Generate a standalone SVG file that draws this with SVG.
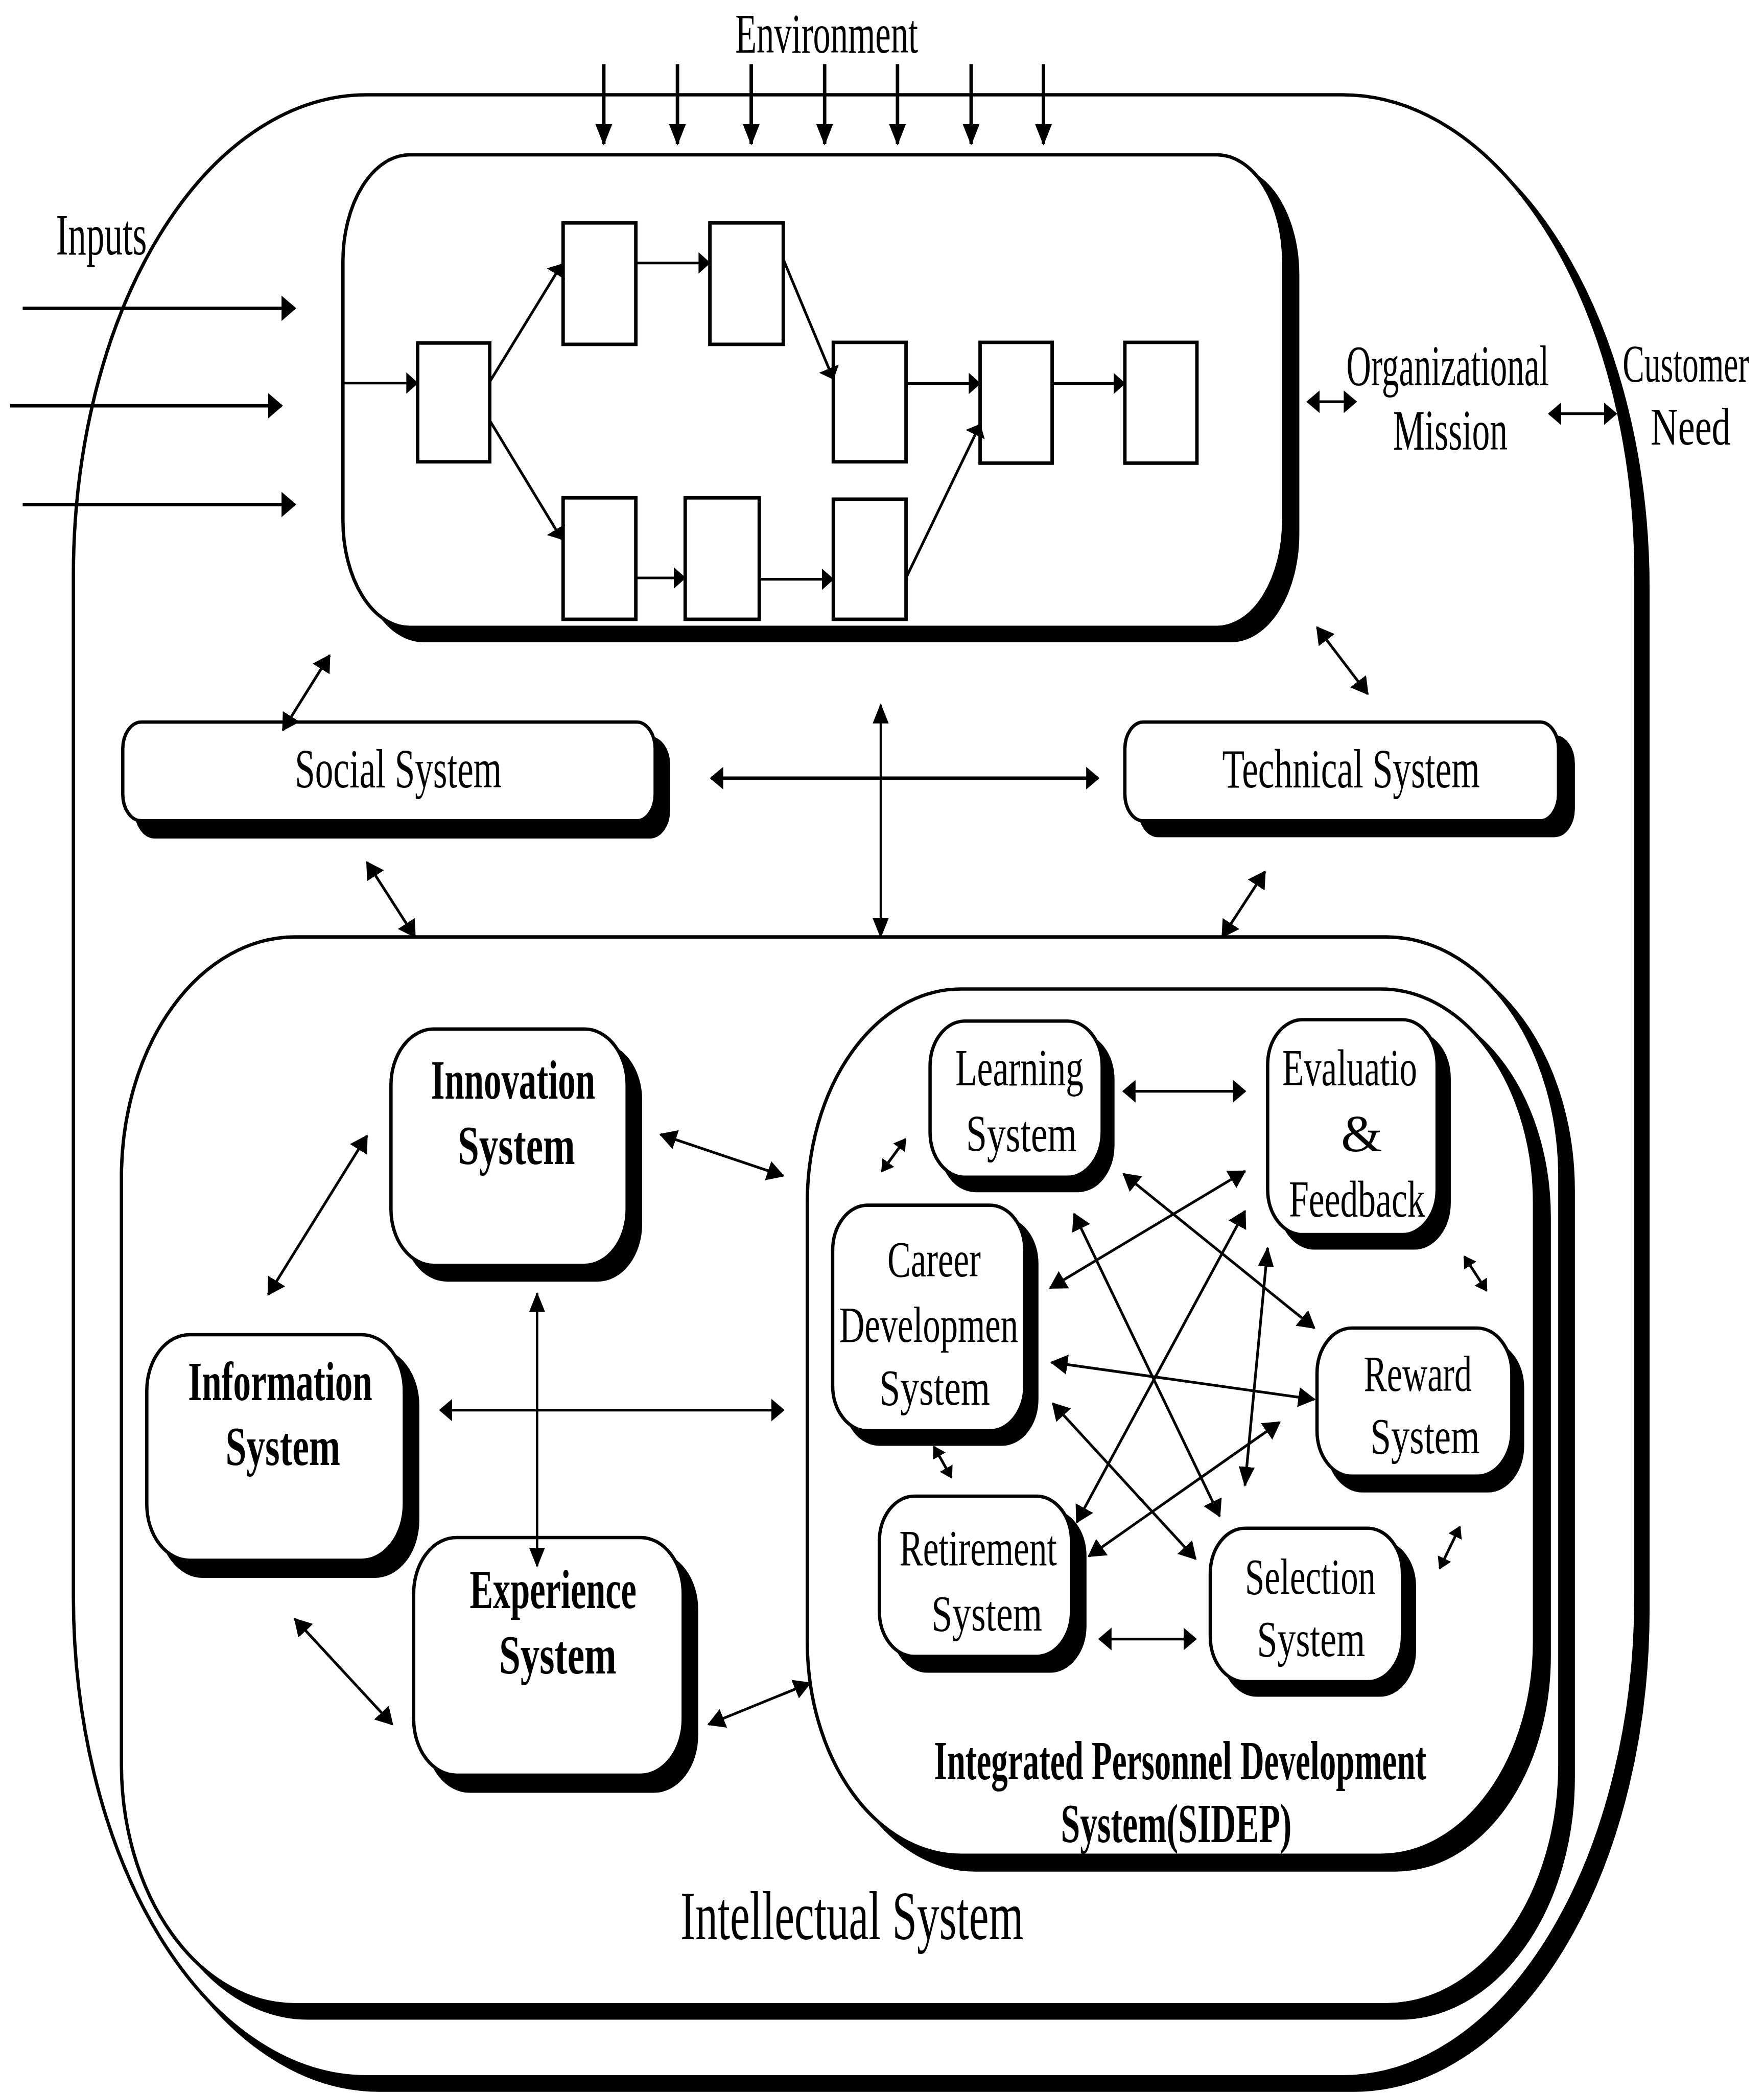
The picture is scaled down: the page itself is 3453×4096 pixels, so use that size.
<svg xmlns="http://www.w3.org/2000/svg" width="3453" height="4096" viewBox="0 0 3453 4096">
<style>
.box{fill:#fff;stroke:#000;stroke-width:2.5}
.sh{fill:#000;stroke:#000;stroke-width:2.5}
.pr{fill:#fff;stroke:#000;stroke-width:2.6}
.c{fill:none;stroke:#000;stroke-width:2}
.ct{fill:none;stroke:#000;stroke-width:2.6}
.t{font-family:"Liberation Serif","Times New Roman",serif;fill:#000}
.b{font-weight:bold}
</style>
<defs>
<marker id="mH" viewBox="0 -8.5 10 17" refX="9" refY="0" markerWidth="10" markerHeight="17" markerUnits="userSpaceOnUse" orient="auto-start-reverse"><path d="M0,-8.5 L10,0 L0,8.5 Z"/></marker>
<marker id="mV" viewBox="0 -6 15 12" refX="14" refY="0" markerWidth="15" markerHeight="12" markerUnits="userSpaceOnUse" orient="auto-start-reverse"><path d="M0,-6 L15,0 L0,6 Z"/></marker>
<marker id="mD" viewBox="0 -7.5 13 15" refX="12" refY="0" markerWidth="13" markerHeight="15" markerUnits="userSpaceOnUse" orient="auto-start-reverse"><path d="M0,-7.5 L13,0 L0,7.5 Z"/></marker>
<marker id="mS" viewBox="0 -5.5 9 11" refX="8" refY="0" markerWidth="9" markerHeight="11" markerUnits="userSpaceOnUse" orient="auto-start-reverse"><path d="M0,-5.5 L9,0 L0,5.5 Z"/></marker>
<marker id="mEnv" viewBox="0 -6.3 16 12.6" refX="15" refY="0" markerWidth="16" markerHeight="12.6" markerUnits="userSpaceOnUse" orient="auto"><path d="M0,-6.3 L16,0 L0,6.3 Z"/></marker>
<marker id="mIn" viewBox="0 -9.5 11 19" refX="10" refY="0" markerWidth="11" markerHeight="19" markerUnits="userSpaceOnUse" orient="auto"><path d="M0,-9.5 L11,0 L0,9.5 Z"/></marker>
<marker id="mP" viewBox="0 -8 9 16" refX="8.5" refY="0" markerWidth="9" markerHeight="16" markerUnits="userSpaceOnUse" orient="auto"><path d="M0,-8 L9,0 L0,8 Z"/></marker>
</defs>
<rect x="0" y="0" width="3453" height="4096" fill="#fff"/>
<g transform="scale(2.612)">

<g id="organization">
<rect x="64" y="81" width="1171" height="1485" rx="220" ry="360" class="sh"/>
<rect x="55" y="71" width="1171" height="1485" rx="220" ry="360" class="box"/>
</g>

<g id="process">
<rect x="267.5" y="126" width="705" height="354" rx="50" ry="80" class="sh"/>
<rect x="257" y="116" width="705" height="354" rx="50" ry="80" class="box"/>
<rect x="313" y="257" width="54" height="89" class="pr"/>
<rect x="422" y="167" width="54.5" height="91" class="pr"/>
<rect x="532" y="167" width="55" height="91" class="pr"/>
<rect x="624.5" y="256.5" width="54.5" height="89.5" class="pr"/>
<rect x="734.5" y="256.5" width="54" height="90.5" class="pr"/>
<rect x="843" y="256.5" width="54" height="90.5" class="pr"/>
<rect x="422" y="373" width="54.5" height="91" class="pr"/>
<rect x="513.5" y="373" width="55.5" height="91" class="pr"/>
<rect x="624.5" y="374" width="54.5" height="90" class="pr"/>
</g>

<g id="social-system">
<rect x="102" y="553" width="399" height="74" rx="14" ry="20" class="sh"/>
<rect x="92" y="541" width="399" height="74" rx="14" ry="20" class="box"/>
<text class="t" x="221" y="590" font-size="41" textLength="155" lengthAdjust="spacingAndGlyphs">Social System</text>
</g>

<g id="technical-system">
<rect x="854" y="552" width="325" height="74" rx="14" ry="20" class="sh"/>
<rect x="843" y="541" width="325" height="74" rx="14" ry="20" class="box"/>
<text class="t" x="916" y="590" font-size="41" textLength="193" lengthAdjust="spacingAndGlyphs">Technical System</text>
</g>

<g id="intellectual-system">
<rect x="101" y="712" width="1078" height="800" rx="130" ry="180" class="sh"/>
<rect x="91" y="702" width="1078" height="800" rx="130" ry="180" class="box"/>
<text class="t" x="510" y="1453" font-size="52" textLength="257" lengthAdjust="spacingAndGlyphs">Intellectual System</text>
</g>

<g id="innovation-system">
<rect x="303" y="782" width="177" height="177" rx="32" ry="42" class="sh"/>
<rect x="293" y="771" width="177" height="177" rx="32" ry="42" class="box"/>
<text class="t b" x="323" y="823" font-size="41" textLength="123" lengthAdjust="spacingAndGlyphs">Innovation</text>
<text class="t b" x="343" y="872" font-size="41" textLength="88" lengthAdjust="spacingAndGlyphs">System</text>
</g>

<g id="information-system">
<rect x="120" y="1011" width="193" height="170" rx="32" ry="42" class="sh"/>
<rect x="110" y="1000" width="193" height="169" rx="32" ry="42" class="box"/>
<text class="t b" x="141" y="1049" font-size="41" textLength="138" lengthAdjust="spacingAndGlyphs">Information</text>
<text class="t b" x="169" y="1097.5" font-size="41" textLength="86" lengthAdjust="spacingAndGlyphs">System</text>
</g>

<g id="experience-system">
<rect x="320" y="1164" width="202" height="178" rx="32" ry="42" class="sh"/>
<rect x="310" y="1152" width="202" height="178" rx="32" ry="42" class="box"/>
<text class="t b" x="352" y="1205" font-size="41" textLength="125" lengthAdjust="spacingAndGlyphs">Experience</text>
<text class="t b" x="374" y="1254" font-size="41" textLength="88" lengthAdjust="spacingAndGlyphs">System</text>
</g>

<g id="sidep">
<rect x="616" y="752" width="545" height="649" rx="115" ry="160" class="sh"/>
<rect x="605" y="741" width="545" height="649" rx="115" ry="160" class="box"/>
<text class="t b" x="700" y="1333" font-size="41" textLength="369" lengthAdjust="spacingAndGlyphs">Integrated Personnel Development</text>
<text class="t b" x="795" y="1380" font-size="41" textLength="173" lengthAdjust="spacingAndGlyphs">System(SIDEP)</text>
</g>

<g id="learning-system">
<rect x="705" y="775" width="129" height="117" rx="26" ry="34" class="sh"/>
<rect x="697" y="765" width="129" height="117" rx="26" ry="34" class="box"/>
<text class="t" x="716" y="813" font-size="39" textLength="96" lengthAdjust="spacingAndGlyphs">Learning</text>
<text class="t" x="724" y="862.5" font-size="39" textLength="83" lengthAdjust="spacingAndGlyphs">System</text>
</g>

<g id="evaluation-feedback">
<rect x="959" y="774" width="127" height="161" rx="26" ry="34" class="sh"/>
<rect x="950" y="764" width="127" height="161" rx="26" ry="34" class="box"/>
<text class="t" x="961" y="813" font-size="39" textLength="101" lengthAdjust="spacingAndGlyphs">Evaluatio</text>
<text class="t" x="1005" y="862.5" font-size="39" textLength="31" lengthAdjust="spacingAndGlyphs">&amp;</text>
<text class="t" x="966" y="911.5" font-size="39" textLength="102" lengthAdjust="spacingAndGlyphs">Feedback</text>
</g>

<g id="career-development-system">
<rect x="633" y="913" width="144" height="169" rx="26" ry="34" class="sh"/>
<rect x="624" y="903" width="144" height="169" rx="26" ry="34" class="box"/>
<text class="t" x="665" y="956.5" font-size="38" textLength="70" lengthAdjust="spacingAndGlyphs">Career</text>
<text class="t" x="629" y="1005.5" font-size="38" textLength="134" lengthAdjust="spacingAndGlyphs">Developmen</text>
<text class="t" x="659" y="1052.5" font-size="38" textLength="83" lengthAdjust="spacingAndGlyphs">System</text>
</g>

<g id="reward-system">
<rect x="995" y="1006" width="146" height="111" rx="26" ry="34" class="sh"/>
<rect x="987" y="995" width="146" height="111" rx="26" ry="34" class="box"/>
<text class="t" x="1022" y="1042" font-size="38" textLength="81" lengthAdjust="spacingAndGlyphs">Reward</text>
<text class="t" x="1027" y="1089" font-size="38" textLength="82" lengthAdjust="spacingAndGlyphs">System</text>
</g>

<g id="retirement-system">
<rect x="669" y="1132" width="144" height="120" rx="26" ry="34" class="sh"/>
<rect x="659" y="1121" width="144" height="120" rx="26" ry="34" class="box"/>
<text class="t" x="674" y="1172.5" font-size="38" textLength="118" lengthAdjust="spacingAndGlyphs">Retirement</text>
<text class="t" x="698" y="1221.5" font-size="38" textLength="83" lengthAdjust="spacingAndGlyphs">System</text>
</g>

<g id="selection-system">
<rect x="916" y="1155" width="144" height="115" rx="26" ry="34" class="sh"/>
<rect x="907" y="1145" width="144" height="115" rx="26" ry="34" class="box"/>
<text class="t" x="933" y="1194" font-size="38" textLength="98" lengthAdjust="spacingAndGlyphs">Selection</text>
<text class="t" x="942" y="1241" font-size="38" textLength="81" lengthAdjust="spacingAndGlyphs">System</text>
</g>

<g id="labels">
<text class="t" x="551" y="39.5" font-size="42" textLength="137" lengthAdjust="spacingAndGlyphs">Environment</text>
<text class="t" x="42" y="190.5" font-size="44" textLength="68" lengthAdjust="spacingAndGlyphs">Inputs</text>
<text class="t" transform="translate(1009,288.5) scale(0.6,1)" x="0" y="0" font-size="43" textLength="253" lengthAdjust="spacingAndGlyphs">Organizational</text>
<text class="t" transform="translate(1044,337) scale(0.6,1)" x="0" y="0" font-size="43" textLength="143" lengthAdjust="spacingAndGlyphs">Mission</text>
<text class="t" transform="translate(1216,286) scale(0.6,1)" x="0" y="0" font-size="40" textLength="158" lengthAdjust="spacingAndGlyphs">Customer</text>
<text class="t" transform="translate(1237,333) scale(0.6,1)" x="0" y="0" font-size="40" textLength="100" lengthAdjust="spacingAndGlyphs">Need</text>
</g>

<g id="connectors">
<g class="ct" marker-end="url(#mEnv)">
<path d="M452.5,48V108"/><path d="M507.7,48V108"/><path d="M563,48V108"/><path d="M618,48V108"/><path d="M672.6,48V108"/><path d="M727.8,48V108"/><path d="M782,48V108"/>
</g>
<g class="ct" marker-end="url(#mIn)">
<path d="M17,231H221"/><path d="M7.6,304H211"/><path d="M17,378H221"/>
</g>
<g class="c" marker-end="url(#mP)">
<path d="M257,287H313"/>
<path d="M367,286L421,198"/>
<path d="M367,315L421,404"/>
<path d="M476.5,197H532"/>
<path d="M587.3,195L624.5,284"/>
<path d="M679,287.3H734.5"/>
<path d="M788.5,287.3H843"/>
<path d="M476.5,433H513.5"/>
<path d="M569,434H624.5"/>
<path d="M679,433L734.5,318"/>
</g>
<g class="c" marker-start="url(#mH)" marker-end="url(#mH)">
<path d="M980,301H1016"/>
<path d="M1161,310H1211"/>
<path d="M533,583H823" stroke-width="2.6"/>
<path d="M330,1056.5H587"/>
<path d="M842,817.6H933"/>
<path d="M824,1228H896"/>
</g>
<g class="c" marker-start="url(#mV)" marker-end="url(#mV)">
<path d="M660,528V702" stroke-width="1.6"/>
<path d="M402.5,969V1173.5" stroke-width="1.8"/>
<path d="M950,935L933,1113"/>
</g>
<g class="c" marker-start="url(#mD)" marker-end="url(#mD)">
<path d="M247,491L212,547"/>
<path d="M275,646L311,702"/>
<path d="M987,470L1025,520"/>
<path d="M948,653L916,702"/>
<path d="M201,970L275,851"/>
<path d="M495,850L587,881"/>
<path d="M221,1213L294,1292"/>
<path d="M531,1292L607,1261"/>
<path d="M787,965L933,877.5"/>
<path d="M842,879.6L985,995"/>
<path d="M788,1020.7L985,1048.5"/>
<path d="M805,909.5L914,1136"/>
<path d="M933,907.4L807,1140.5"/>
<path d="M789,1051.5L896,1168"/>
<path d="M959,1065.6L816,1166"/>
</g>
<g class="c" marker-start="url(#mS)" marker-end="url(#mS)">
<path d="M661,877.5L678.5,853.5"/>
<path d="M1097.5,941.5L1114,967"/>
<path d="M700,1084L713,1107"/>
<path d="M1079,1175L1094,1144"/>
</g>
</g>

</g>
</svg>
